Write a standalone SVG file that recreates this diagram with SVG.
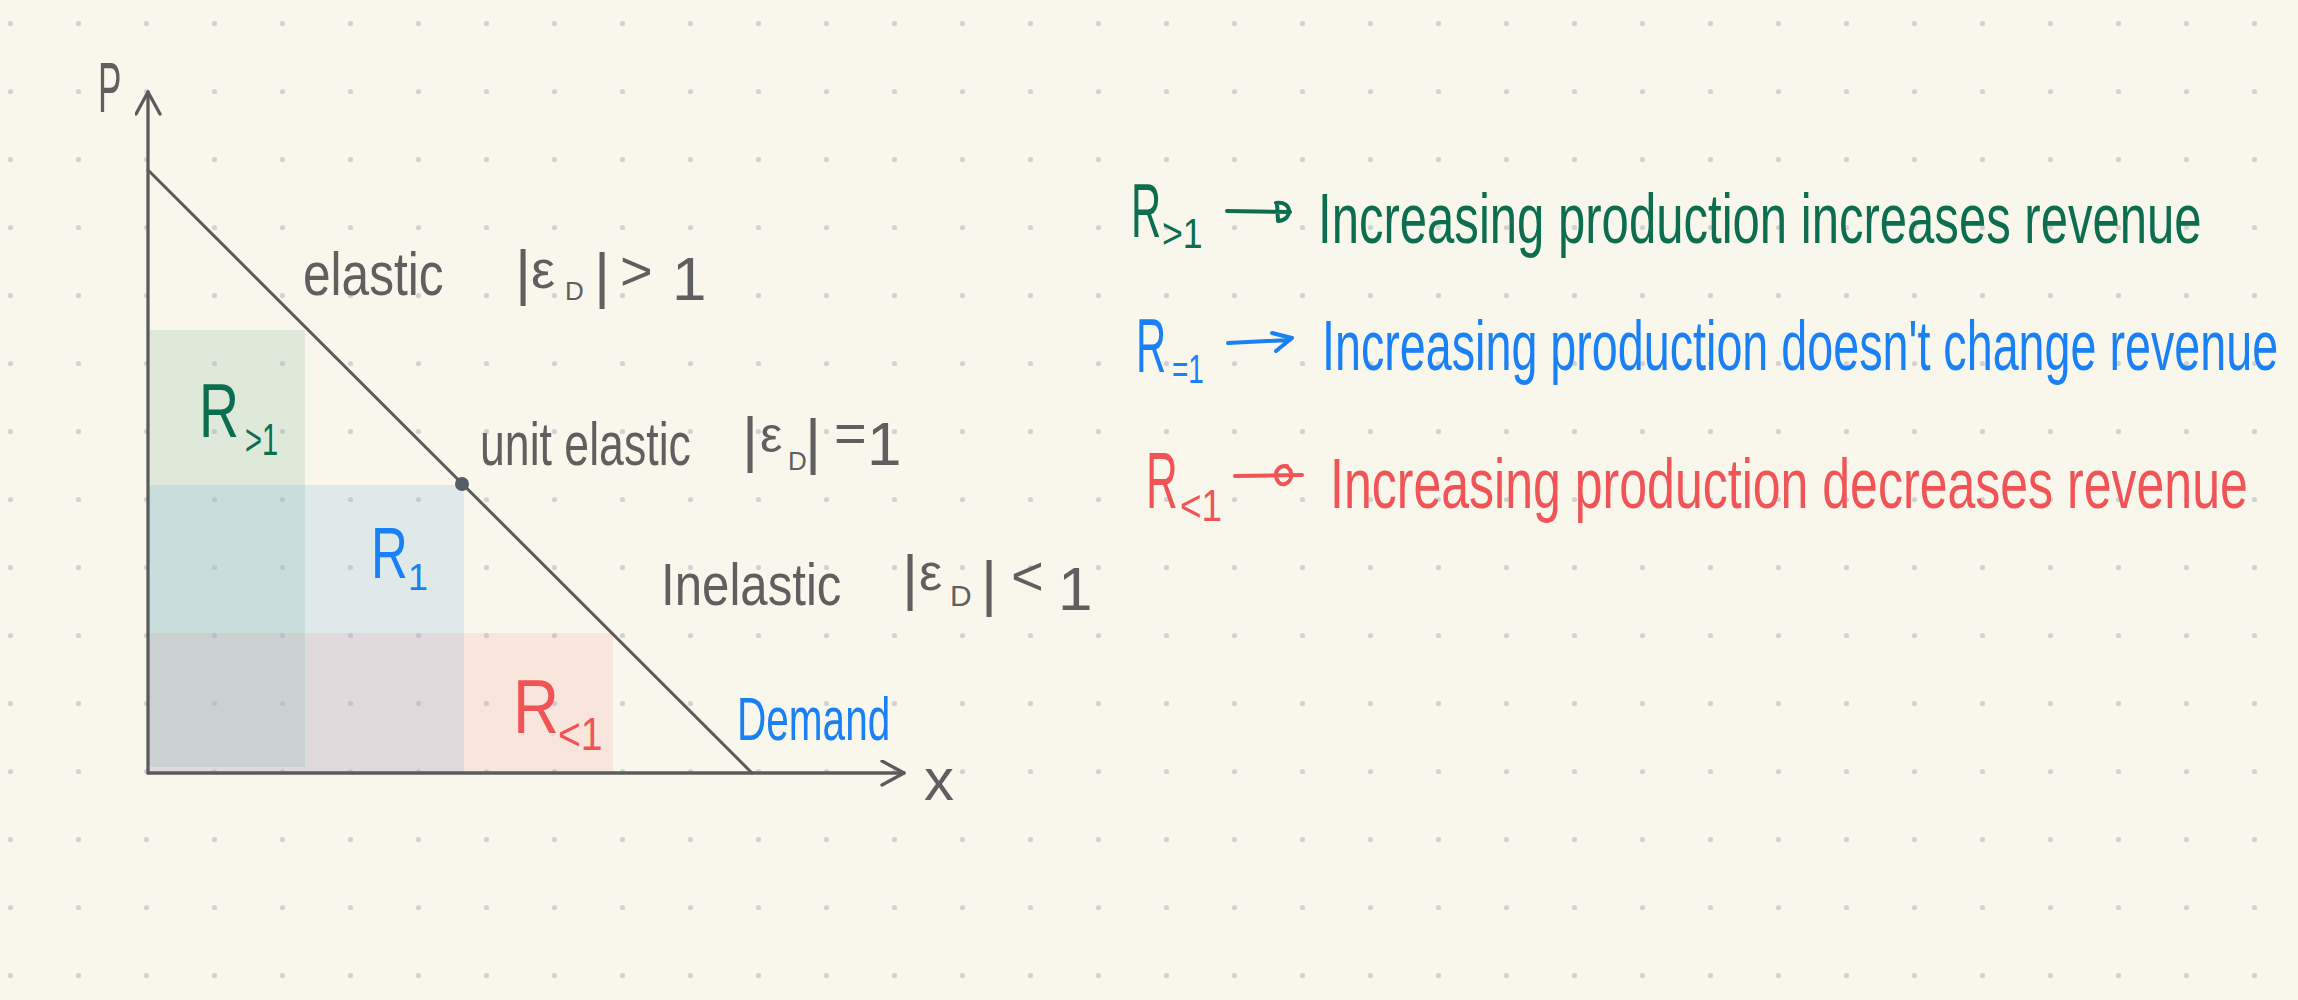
<svg xmlns="http://www.w3.org/2000/svg" width="2298" height="1000" viewBox="0 0 2298 1000">
<defs>
<pattern id="dots" patternUnits="userSpaceOnUse" x="0" y="0" width="68" height="68">
<circle cx="10.5" cy="23.5" r="2.6" fill="#a9adbe" fill-opacity="0.5"/>
</pattern>
<marker id="openArrow" viewBox="0 0 26 28" refX="24" refY="13" markerWidth="26" markerHeight="28" markerUnits="userSpaceOnUse" orient="auto">
<path d="M2,1 L24,13 L2,25" fill="none" stroke="#5b5b5b" stroke-width="3.3" stroke-linecap="round" stroke-linejoin="round"/>
</marker>
</defs>
<style>
.hw { font-family: "Liberation Sans", "DejaVu Sans", sans-serif; }
.grey { fill: #5f5f5f; }
.green { fill: #0c6e4f; }
.blue { fill: #1a80f5; }
.red { fill: #f05456; }
.axis { stroke: #5b5b5b; stroke-width: 3.3; fill: none; stroke-linecap: round; }
.gArrow { stroke: #0c6e4f; stroke-width: 4; fill: none; stroke-linecap: round; stroke-linejoin: round; }
.bArrow { stroke: #1a80f5; stroke-width: 4; fill: none; stroke-linecap: round; stroke-linejoin: round; }
.rArrow { stroke: #f05456; stroke-width: 4; fill: none; stroke-linecap: round; stroke-linejoin: round; }
</style>
<rect id="background" x="0" y="0" width="2298" height="1000" fill="#f9f7eb"/>
<g id="revenue-areas">
<rect x="148" y="330" width="157" height="155" fill="#dfe9da"/>
<rect x="148" y="485" width="157" height="148" fill="#c8dedc"/>
<rect x="305" y="485" width="159" height="148" fill="#dfe9ea"/>
<rect x="148" y="633" width="157" height="134" fill="#c9d2d0"/>
<rect x="148" y="767" width="157" height="6" fill="#e0dadc"/>
<rect x="305" y="633" width="159" height="140" fill="#e0dadc"/>
<rect x="464" y="633" width="149" height="140" fill="#f8e5dc"/>
</g>
<rect id="dot-grid" x="0" y="0" width="2298" height="1000" fill="url(#dots)"/>
<g id="axes">
<line class="axis" x1="148" y1="773" x2="148" y2="92" marker-end="url(#openArrow)"/>
<line class="axis" x1="148" y1="773" x2="904" y2="773" marker-end="url(#openArrow)"/>
<text class="hw grey" transform="translate(98,112) scale(0.5,1)" font-size="70">P</text>
<text class="hw grey" x="924" y="800" font-size="60">x</text>
</g>
<g id="demand-curve">
<line x1="148" y1="170" x2="752" y2="773" stroke="#5b5b5b" stroke-width="3" stroke-linecap="round"/>
<circle cx="462" cy="484" r="7" fill="#545c66"/>
<text class="hw blue" transform="translate(737,740) scale(0.654,1)" font-size="62">Demand</text>
</g>
<g id="label-elastic">
<text class="hw grey" transform="translate(303,295) scale(0.8,1)" font-size="62">elastic</text>
<text class="hw grey" font-size="62"><tspan x="515" y="293">|</tspan><tspan x="531" y="288" font-size="54">ε</tspan><tspan x="565" y="300" font-size="26">D</tspan><tspan x="594" y="296">|</tspan><tspan x="620" y="290" font-size="56">&gt;</tspan><tspan x="672" y="300">1</tspan></text>
</g>
<g id="label-unit-elastic">
<text class="hw grey" transform="translate(480,465) scale(0.72,1)" font-size="62">unit elastic</text>
<text class="hw grey" font-size="62"><tspan x="742" y="460">|</tspan><tspan x="760" y="452" font-size="50">ε</tspan><tspan x="788" y="470" font-size="26">D</tspan><tspan x="805" y="462">|</tspan><tspan x="834" y="452" font-size="56">=</tspan><tspan x="867" y="465">1</tspan></text>
</g>
<g id="label-inelastic">
<text class="hw grey" transform="translate(661,605) scale(0.82,1)" font-size="60">Inelastic</text>
<text class="hw grey" font-size="62"><tspan x="902" y="598">|</tspan><tspan x="919" y="590" font-size="52">ε</tspan><tspan x="950" y="606" font-size="30">D</tspan><tspan x="981" y="604">|</tspan><tspan x="1011" y="595" font-size="56">&lt;</tspan><tspan x="1058" y="610">1</tspan></text>
</g>
<g id="area-labels">
<text class="hw green" transform="translate(199,437) scale(0.73,1)" font-size="76">R</text>
<text class="hw green" transform="translate(245,455) scale(0.66,1)" font-size="44">&gt;1</text>
<text class="hw blue" transform="translate(371,578) scale(0.71,1)" font-size="72">R</text>
<text class="hw blue" x="408" y="590" font-size="36">1</text>
<text class="hw red" transform="translate(513,733) scale(0.84,1)" font-size="76">R</text>
<text class="hw red" transform="translate(558,750) scale(0.85,1)" font-size="46">&lt;1</text>
</g>
<g id="connectors">
<path class="gArrow" d="M1227,211 L1290,212 M1276,203 C1292,200 1294,220 1278,221 L1277,203"/>
<path class="bArrow" d="M1228,343 L1290,340 M1272,333 L1292,338 L1276,351"/>
<path class="rArrow" d="M1235,476 L1302,475 M1287,466 C1270,465 1275,487 1285,484 C1295,480 1292,466 1283,466"/>
</g>
<g id="legend-increase">
<text class="hw green" transform="translate(1131,237) scale(0.55,1)" font-size="76">R</text>
<text class="hw green" transform="translate(1162,248) scale(0.85,1)" font-size="42">&gt;1</text>
<text class="hw green" transform="translate(1318,243) scale(0.701,1)" font-size="70">Increasing production increases revenue</text>
</g>
<g id="legend-unchanged">
<text class="hw blue" transform="translate(1136,372) scale(0.55,1)" font-size="76">R</text>
<text class="hw blue" transform="translate(1172,383) scale(0.7,1)" font-size="40">=1</text>
<text class="hw blue" transform="translate(1322,370) scale(0.667,1)" font-size="70">Increasing production doesn't change revenue</text>
</g>
<g id="legend-decrease">
<text class="hw red" transform="translate(1146,508) scale(0.55,1)" font-size="80">R</text>
<text class="hw red" transform="translate(1180,521) scale(0.84,1)" font-size="44">&lt;1</text>
<text class="hw red" transform="translate(1330,508) scale(0.715,1)" font-size="70">Increasing production decreases revenue</text>
</g>
</svg>
